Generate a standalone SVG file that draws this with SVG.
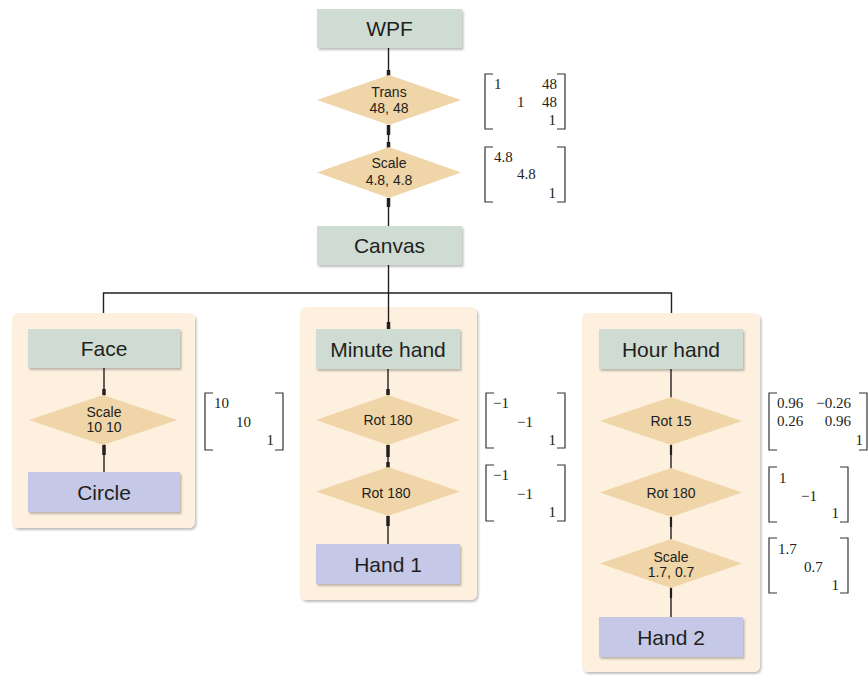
<svg xmlns="http://www.w3.org/2000/svg" width="868" height="675" viewBox="0 0 868 675">
<defs>
<filter id="sh" x="-10%" y="-10%" width="130%" height="130%">
<feDropShadow dx="1.5" dy="2" stdDeviation="1.2" flood-color="#000" flood-opacity="0.25"/>
</filter>
<style>
.cont{fill:#fdf0df;filter:url(#sh)}
.box{fill:#cedcd3;filter:url(#sh)}
.leaf{fill:#c5c9e7;filter:url(#sh)}
.dia{fill:#efd5a8}
.bl{font-family:"Liberation Sans",Arial,sans-serif;font-size:21px;fill:#231f20;text-anchor:middle}
.dl{font-family:"Liberation Sans",Arial,sans-serif;font-size:14px;fill:#231f20;text-anchor:middle}
.mt{font-family:"Liberation Serif","Times New Roman",serif;font-size:15px;fill:#231f20}
.e{text-anchor:end}
.br{fill:none;stroke:#333;stroke-width:1.2}
.ln{stroke:#231f20;stroke-width:1.4;fill:none}
.tk{stroke:#231f20;stroke-width:3.5}
.tm{stroke:#231f20;stroke-width:2.2}
</style>
</defs>

<!-- containers -->
<g id="face-group"><rect class="cont" x="12" y="313" width="183" height="215" rx="6"/></g>
<g id="minute-group"><rect class="cont" x="300" y="307" width="177" height="293" rx="6"/></g>
<g id="hour-group"><rect class="cont" x="582" y="313" width="178" height="359" rx="6"/></g>

<!-- connectors -->
<g id="connectors">
<line class="ln" x1="388.5" y1="48" x2="388.5" y2="75"/>
<line class="tk" x1="388.5" y1="70" x2="388.5" y2="76"/>
<line class="ln" x1="388.5" y1="125" x2="388.5" y2="147"/>
<line class="tk" x1="388.5" y1="125" x2="388.5" y2="135"/>
<line class="tk" x1="388.5" y1="142" x2="388.5" y2="148"/>
<line class="ln" x1="388.5" y1="198" x2="388.5" y2="226"/>
<line class="tk" x1="388.5" y1="198" x2="388.5" y2="207"/>
<line class="ln" x1="388.5" y1="265" x2="388.5" y2="329"/>
<line class="tk" x1="388.5" y1="322" x2="388.5" y2="329"/>
<polyline class="ln" points="103.5,313 103.5,293 671.5,293 671.5,313"/>
<!-- face -->
<line class="ln" x1="104" y1="368" x2="104" y2="472"/>
<line class="tk" x1="104" y1="389" x2="104" y2="395"/>
<line class="tk" x1="104" y1="445" x2="104" y2="455"/>
<!-- minute -->
<line class="ln" x1="388" y1="369" x2="388" y2="544"/>
<line class="tk" x1="388" y1="389" x2="388" y2="395"/>
<line class="tk" x1="388" y1="445" x2="388" y2="457"/>
<line class="tk" x1="388" y1="462" x2="388" y2="468"/>
<line class="tk" x1="388" y1="516" x2="388" y2="526"/>
<!-- hour -->
<line class="ln" x1="671" y1="369" x2="671" y2="617"/>
<line class="tm" x1="671" y1="445" x2="671" y2="455"/>
<line class="tm" x1="671" y1="517" x2="671" y2="527"/>
<line class="tm" x1="671" y1="588" x2="671" y2="598"/>
</g>

<!-- top chain -->
<g id="wpf"><rect class="box" x="317" y="9" width="145" height="39"/><text class="bl" x="389.5" y="36">WPF</text></g>
<g id="trans"><polygon class="dia" points="317,100 389,75 461,100 389,125"/><text class="dl" x="389" y="97">Trans</text><text class="dl" x="389" y="113">48, 48</text></g>
<g id="scale1"><polygon class="dia" points="317,172.5 389,147 461,172.5 389,198"/><text class="dl" x="389" y="168">Scale</text><text class="dl" x="389" y="185">4.8, 4.8</text></g>
<g id="canvas"><rect class="box" x="317" y="226" width="145" height="39"/><text class="bl" x="389.5" y="253">Canvas</text></g>

<!-- face column -->
<g id="face"><rect class="box" x="28" y="329" width="152" height="39"/><text class="bl" x="104" y="355.5">Face</text></g>
<g id="scale-face"><polygon class="dia" points="29,420 103,395 177,420 103,445"/><text class="dl" x="104" y="417">Scale</text><text class="dl" x="104" y="432">10 10</text></g>
<g id="circle"><rect class="leaf" x="28" y="472" width="152" height="40"/><text class="bl" x="104" y="499.5">Circle</text></g>

<!-- minute column -->
<g id="minute-hand"><rect class="box" x="316" y="329" width="144" height="40"/><text class="bl" x="388" y="356.5">Minute hand</text></g>
<g id="rot180-a"><polygon class="dia" points="316,420 388,395 460,420 388,445"/><text class="dl" x="388" y="425">Rot 180</text></g>
<g id="rot180-b"><polygon class="dia" points="316,491.5 388,467 460,491.5 388,516"/><text class="dl" x="386" y="498">Rot 180</text></g>
<g id="hand1"><rect class="leaf" x="316" y="544" width="144" height="40"/><text class="bl" x="388" y="571.5">Hand 1</text></g>

<!-- hour column -->
<g id="hour-hand"><rect class="box" x="599" y="329" width="144" height="40"/><text class="bl" x="671" y="356.5">Hour hand</text></g>
<g id="rot15"><polygon class="dia" points="600,421 671,397 742,421 671,445"/><text class="dl" x="671" y="426">Rot 15</text></g>
<g id="rot180-c"><polygon class="dia" points="600,492.5 671,468 742,492.5 671,517"/><text class="dl" x="671" y="498">Rot 180</text></g>
<g id="scale-hour"><polygon class="dia" points="600,563.5 671,539 742,563.5 671,588"/><text class="dl" x="671" y="562">Scale</text><text class="dl" x="671" y="577">1.7, 0.7</text></g>
<g id="hand2"><rect class="leaf" x="599" y="617" width="144" height="40"/><text class="bl" x="671" y="644.5">Hand 2</text></g>

<!-- matrices -->
<g id="m-trans">
<path class="br" d="M493,74H485V129H493M557,74H565V129H557"/>
<text class="mt" x="494" y="89">1</text><text class="mt e" x="557" y="89">48</text>
<text class="mt" x="517" y="107">1</text><text class="mt e" x="557" y="107">48</text>
<text class="mt e" x="556" y="125">1</text>
</g>
<g id="m-scale">
<path class="br" d="M493,147H485V202H493M557,147H565V202H557"/>
<text class="mt" x="494" y="161.5">4.8</text>
<text class="mt" x="517" y="178.5">4.8</text>
<text class="mt e" x="556" y="198">1</text>
</g>
<g id="m-face">
<path class="br" d="M213,393H205V450H213M275,393H283V450H275"/>
<text class="mt" x="214" y="408">10</text>
<text class="mt" x="236" y="427">10</text>
<text class="mt e" x="274" y="445">1</text>
</g>
<g id="m-min1">
<path class="br" d="M494,393H486V448H494M557,393H565V448H557"/>
<text class="mt" x="493" y="408">−1</text>
<text class="mt" x="517" y="427">−1</text>
<text class="mt e" x="556" y="445">1</text>
</g>
<g id="m-min2">
<path class="br" d="M494,465H486V521H494M557,465H565V521H557"/>
<text class="mt" x="493" y="480">−1</text>
<text class="mt" x="517" y="499">−1</text>
<text class="mt e" x="556" y="517">1</text>
</g>
<g id="m-rot15">
<path class="br" d="M777,393H769V450H777M859,393H867V450H859"/>
<text class="mt" x="777" y="408">0.96</text><text class="mt e" x="851" y="408">−0.26</text>
<text class="mt" x="777" y="426">0.26</text><text class="mt e" x="851" y="426">0.96</text>
<text class="mt e" x="863" y="445">1</text>
</g>
<g id="m-rot180">
<path class="br" d="M777,467H769V522H777M840,467H848V522H840"/>
<text class="mt" x="779" y="483">1</text>
<text class="mt" x="801" y="501">−1</text>
<text class="mt e" x="839" y="518">1</text>
</g>
<g id="m-scale-hour">
<path class="br" d="M777,538H769V593H777M840,538H848V593H840"/>
<text class="mt" x="778" y="554">1.7</text>
<text class="mt" x="804" y="572">0.7</text>
<text class="mt e" x="839" y="590">1</text>
</g>
</svg>
